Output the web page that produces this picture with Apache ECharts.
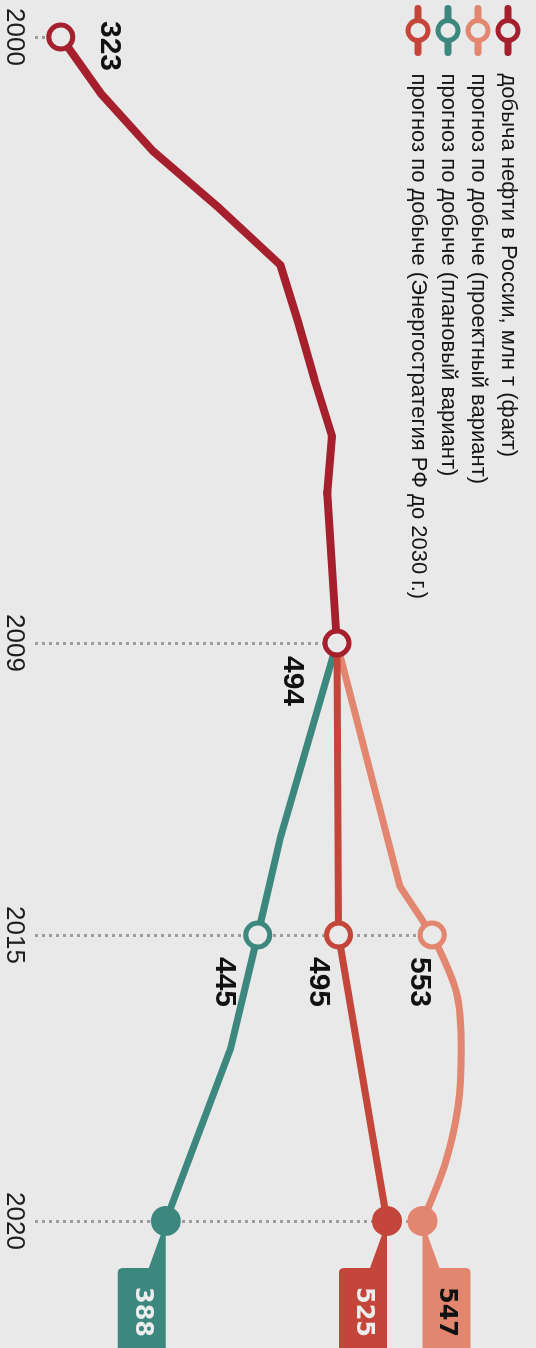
<!DOCTYPE html>
<html><head><meta charset="utf-8">
<script src="https://cdn.jsdelivr.net/npm/echarts@6/dist/echarts.min.js"></script>
<style>
html,body{margin:0;padding:0;width:536px;height:1348px;overflow:hidden;background:#e9e9e9;}
#wrap{position:absolute;left:0;top:0;width:1348px;height:536px;transform-origin:0 0;transform:translateX(536px) rotate(90deg);}
#chart{width:1348px;height:536px;}
</style></head><body>
<div id="wrap"><div id="chart"></div></div>
<script>
// ---------------- data ----------------
const seriesNames = [
  'добыча нефти в России, млн т (факт)',
  'прогноз по добыче (проектный вариант)',
  'прогноз по добыче (плановый вариант)',
  'прогноз по добыче (Энергостратегия РФ до 2030 г.)'
];
const factYears = [2000, 2001, 2002, 2003, 2004, 2005, 2006, 2007, 2008, 2009];
const factValues = [323, 348, 380, 421, 459, 470, 480, 491, 488, 494];
const projectYears = [2009, 2014, 2015, 2016, 2017, 2018, 2019, 2020];
const projectValues = [494, 533, 553, 568, 571, 569, 561, 547];
const planYears = [2009, 2013, 2015, 2017, 2020];
const planValues = [494, 459, 445, 428, 388];
const strategyYears = [2009, 2015, 2020];
const strategyValues = [494, 495, 525];
const yearTicks = [2000, 2009, 2015, 2020];
const axisSegments = [2000, 2008, 2009, 2015, 2020];

// ---------------- layout & style ----------------
const segEdges = [37, 493, 643, 935, 1221];
const Y_MIN = 307, Y_MAX = 600;
const GRID_TOP = 28, GRID_BOTTOM = 35;
const BG = '#e9e9e9';
const colors = ['#a51f2d', '#e2866f', '#3c877e', '#c4463b'];
const lineWidths = [8, 7, 7, 7];
const segZ = [5, 5, 4, 3];
const SANS = "'Liberation Sans',Arial,sans-serif";
const hollowYears = [[2000, 2009], [2015], [2015], [2015]];
const filledYears = [2020];
const valueLabelOffsets = {
  '0-2000': [9, -48], '0-2009': [38, 45],
  '1-2015': [47, 13], '2-2015': [47, 34], '3-2015': [47, 20]
};
const tagDir = ['', 'up', 'down', 'down'];
const tagTextColor = ['', '#111', '#ececec', '#ececec'];
const tagPaths = {
  down: 'path://M0,0L140,0L140,48L52,48Q47,48 47,43L47,17Z',
  up: 'path://M0,48L140,48L140,0L52,0Q47,0 47,5L47,31Z'
};

const datasets = [
  {years: factYears, values: factValues},
  {years: projectYears, values: projectValues},
  {years: planYears, values: planValues},
  {years: strategyYears, values: strategyValues}
];

// guide line owner: highest value at each labelled year
const guideOwner = {};
yearTicks.forEach(y => {
  datasets.forEach((ds, si) => {
    const i = ds.years.indexOf(y);
    if (i >= 0 && (!guideOwner[y] || ds.values[i] > guideOwner[y].v)) guideOwner[y] = {si, v: ds.values[i]};
  });
});

const grids = [], xAxes = [], yAxes = [], series = [];
for (let g = 0; g < axisSegments.length - 1; g++) {
  const a = axisSegments[g], b = axisSegments[g + 1];
  const owns = y => (y > a && y <= b) || (g === 0 && y === a);
  grids.push({left: segEdges[g], width: segEdges[g + 1] - segEdges[g], top: GRID_TOP, bottom: GRID_BOTTOM});
  xAxes.push({
    type: 'value', gridIndex: g, min: a, max: b, interval: 1,
    axisLine: {show: false}, axisTick: {show: false}, splitLine: {show: false},
    axisLabel: {
      show: true, showMinLabel: true, showMaxLabel: true, margin: 8,
      fontFamily: SANS, fontSize: 26, color: '#1e1e1e',
      formatter: v => (yearTicks.includes(v) && owns(v)) ? String(v) : ''
    }
  });
  yAxes.push({type: 'value', gridIndex: g, min: Y_MIN, max: Y_MAX, show: false});

  datasets.forEach((ds, si) => {
    const pts = ds.years.map((y, i) => [y, ds.values[i]]).filter(p => p[0] >= a && p[0] <= b);
    if (pts.length < 2) return;
    const data = pts.map(p => {
      const y = p[0];
      if (hollowYears[si].includes(y) && owns(y)) {
        const off = valueLabelOffsets[si + '-' + y];
        return {
          value: p, symbol: 'circle', symbolSize: 24,
          label: off ? {
            show: true, position: 'inside', offset: off, formatter: String(p[1]),
            color: '#111', fontSize: 30, fontWeight: 'bold', fontFamily: SANS
          } : {show: false}
        };
      }
      if (filledYears.includes(y) && owns(y)) {
        return {value: p, symbol: 'circle', symbolSize: 30, itemStyle: {color: colors[si], borderWidth: 0}};
      }
      return {value: p, symbol: 'none'};
    });
    const s = {
      type: 'line', name: seriesNames[si], xAxisIndex: g, yAxisIndex: g,
      z: segZ[g], clip: false, animation: false, silent: true,
      smooth: (si === 1 && g === 3) ? 0.3 : false,
      symbol: 'circle', symbolSize: 24,
      lineStyle: {color: colors[si], width: lineWidths[si], cap: 'round', join: 'round'},
      itemStyle: {color: BG, borderColor: colors[si], borderWidth: 5},
      label: {show: false},
      data
    };
    const guides = yearTicks.filter(y => owns(y) && guideOwner[y] && guideOwner[y].si === si);
    if (guides.length) {
      s.markLine = {
        silent: true, z: 1, animation: false, symbol: ['none', 'none'], label: {show: false},
        lineStyle: {color: '#9c9c9c', width: 3, type: [3, 4]},
        data: guides.map(y => [{coord: [y, Y_MIN]}, {coord: [y, guideOwner[y].v]}])
      };
    }
    const last = pts[pts.length - 1];
    if (tagDir[si] && filledYears.includes(last[0]) && owns(last[0])) {
      const dir = tagDir[si];
      s.markPoint = {
        silent: true, z: 1, animation: false,
        data: [{
          coord: last, symbol: tagPaths[dir], symbolSize: [140, 48], symbolKeepAspect: false,
          symbolOffset: [70, dir === 'down' ? 24 : -24],
          itemStyle: {color: colors[si]},
          label: {show: true, position: 'inside', offset: [21, 0], formatter: String(last[1]),
                  color: tagTextColor[si], fontSize: 24, fontWeight: 'bold', fontFamily: "'DejaVu Sans',sans-serif"}
        }]
      };
    }
    series.push(s);
  });
}

const chart = echarts.init(document.getElementById('chart'), null, {renderer: 'canvas'});
chart.setOption({
  backgroundColor: BG,
  animation: false,
  legend: {
    orient: 'vertical', left: 0, top: 10.5, itemWidth: 44, itemHeight: 25, itemGap: 5,
    selectedMode: false, data: seriesNames,
    lineStyle: {width: 7},
    itemStyle: {borderWidth: 5},
    textStyle: {fontFamily: SANS, fontSize: 22, color: '#151515', lineHeight: 25, padding: [0, 0, 0, 16]}
  },
  grid: grids, xAxis: xAxes, yAxis: yAxes, series
});
</script>
</body></html>
